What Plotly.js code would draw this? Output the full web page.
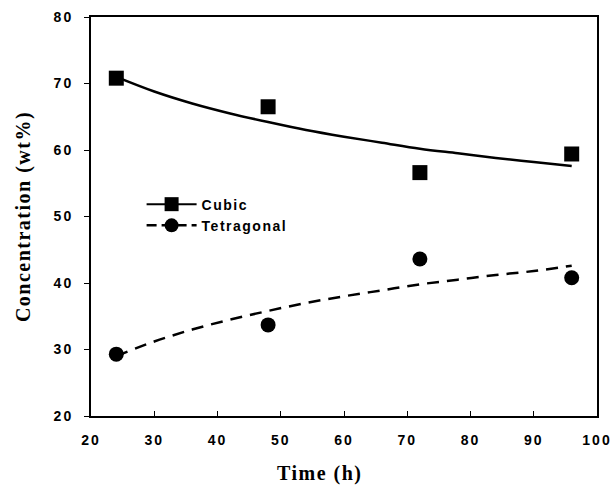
<!DOCTYPE html>
<html>
<head>
<meta charset="utf-8">
<script src="https://cdn.plot.ly/plotly-3.0.1.min.js"></script>
<style>
  html, body { margin: 0; padding: 0; background: #fff; }
  #chart { width: 613px; height: 485px; }
  #chart .xtick text, #chart .ytick text { letter-spacing: 2px; }
  #chart .legendtext { letter-spacing: 1.5px; }
  #chart .legend .scrollbox { clip-path: none !important; }
  #chart .g-ytitle text, #chart .annotation-text { letter-spacing: 1.5px; }
</style>
</head>
<body>
<div id="chart"></div>
<script>
// Measured phase concentrations (wt%) at each synthesis time (h)
const timeH = [24, 48, 72, 96];
const cubicMeasured = [70.8, 66.5, 56.6, 59.4];
const tetragonalMeasured = [29.3, 33.7, 43.6, 40.8];

// Trend curves drawn through the measurements
const trendTime = [24, 30, 36, 42, 48, 54, 60, 66, 72, 78, 84, 90, 96];
const cubicTrend = [71.0, 68.8, 67.0, 65.5, 64.2, 63.0, 62.0, 61.1, 60.2, 59.5, 58.8, 58.2, 57.6];
const tetragonalTrend = [29.0, 31.2, 33.0, 34.5, 35.8, 37.0, 38.0, 38.9, 39.8, 40.5, 41.2, 41.8, 42.6];

const seriesNames = ['Cubic', 'Tetragonal'];

const tickFont = { family: 'Liberation Sans, Arial, sans-serif', size: 14, color: '#000', weight: 'bold' };
const titleFont = { family: 'Liberation Serif, Times New Roman, serif', size: 20, color: '#000', weight: 'bold' };

const traces = [
  // fitted trends
  {
    x: trendTime, y: cubicTrend, mode: 'lines', showlegend: false, hoverinfo: 'skip',
    line: { color: '#000', width: 2.5, shape: 'spline' }
  },
  {
    x: trendTime, y: tetragonalTrend, mode: 'lines', showlegend: false, hoverinfo: 'skip',
    line: { color: '#000', width: 2.5, dash: '12px,8px', shape: 'spline' }
  },
  // measured points
  {
    x: timeH, y: cubicMeasured, mode: 'markers', showlegend: false,
    marker: { symbol: 'square', size: 15, color: '#000' }
  },
  {
    x: timeH, y: tetragonalMeasured, mode: 'markers', showlegend: false,
    marker: { symbol: 'circle', size: 15, color: '#000' }
  },
  // legend entries (line + marker key)
  {
    x: [null], y: [null], name: seriesNames[0], mode: 'lines+markers',
    line: { color: '#000', width: 2 },
    marker: { symbol: 'square', size: 14, color: '#000' }
  },
  {
    x: [null], y: [null], name: seriesNames[1], mode: 'lines+markers',
    line: { color: '#000', width: 2.5, dash: '10px,5px' },
    marker: { symbol: 'circle', size: 14, color: '#000' }
  }
];

const layout = {
  width: 613, height: 485,
  margin: { l: 91, r: 16, t: 17, b: 69 },
  paper_bgcolor: '#fff', plot_bgcolor: '#fff',
  showlegend: true,
  legend: {
    x: 0.1, y: 0.57, xanchor: 'left', yanchor: 'top',
    bgcolor: 'rgba(0,0,0,0)', borderwidth: 0,
    font: { family: 'Liberation Sans, Arial, sans-serif', size: 14, color: '#000', weight: 'bold' },
    tracegroupgap: 0, itemwidth: 50
  },
  xaxis: {
    range: [20, 100], dtick: 10, tick0: 20,
    showgrid: false, zeroline: false,
    showline: true, linecolor: '#000', linewidth: 2, mirror: true,
    ticks: 'inside', ticklen: 5, tickwidth: 1, tickcolor: '#000',
    ticklabelstandoff: 10,
    tickfont: tickFont
  },
  yaxis: {
    range: [20, 80], dtick: 10, tick0: 20,
    showgrid: false, zeroline: false,
    showline: true, linecolor: '#000', linewidth: 2, mirror: true,
    ticks: 'outside', ticklen: 5, tickwidth: 1, tickcolor: '#000',
    ticklabelstandoff: 8,
    tickfont: tickFont,
    title: { text: 'Concentration (wt%)', font: titleFont, standoff: 22 }
  },
  annotations: [
    {
      // x-axis title, set slightly left of the plot centre
      text: 'Time (h)', font: titleFont, showarrow: false,
      xref: 'paper', yref: 'paper', x: 0.4526, y: -0.145,
      xanchor: 'center', yanchor: 'middle'
    }
  ]
};

Plotly.newPlot('chart', traces, layout, { displayModeBar: false, staticPlot: true });
</script>
</body>
</html>
